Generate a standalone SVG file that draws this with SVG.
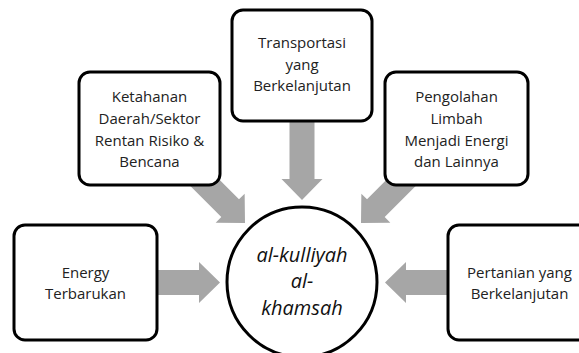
<svg xmlns="http://www.w3.org/2000/svg" width="579" height="353" viewBox="0 0 579 353">
<style>
.box{fill:#fff;stroke:#000;stroke-width:3}
.lbl{font-family:"Open Sans","Liberation Sans",sans-serif;font-size:15px;fill:#222;text-anchor:middle}
.ctr{font-family:"Open Sans","Liberation Sans",sans-serif;font-size:20px;font-style:italic;fill:#111;text-anchor:middle}
.arr{fill:#A6A6A6}
</style>
<defs>
<polygon id="a70" points="-70,-12.5 -21,-12.5 -21,-20.5 0,0 -21,20.5 -21,12.5 -70,12.5"/>
<polygon id="a85" points="-85,-12.5 -21,-12.5 -21,-20.5 0,0 -21,20.5 -21,12.5 -85,12.5"/>
<polygon id="a80" points="-80,-12.5 -21,-12.5 -21,-20.5 0,0 -21,20.5 -21,12.5 -80,12.5"/>
</defs>
<g id="connectors" class="arr">
<use href="#a70" transform="translate(220,282.5)"/>
<use href="#a70" transform="translate(385,282.5) rotate(180)"/>
<use href="#a85" transform="translate(302,200) rotate(90)"/>
<use href="#a80" transform="translate(245,223) rotate(45)"/>
<use href="#a80" transform="translate(361,223) rotate(135)"/>
</g>
<g id="center">
<circle class="box" cx="302" cy="282" r="75"/>
<text class="ctr" x="302" y="262">al-kulliyah</text>
<text class="ctr" x="302" y="288">al-</text>
<text class="ctr" x="302" y="315">khamsah</text>
</g>
<g id="ketahanan">
<rect class="box" x="79" y="72" width="141" height="113" rx="11"/>
<text class="lbl" x="149.5" y="102">Ketahanan</text>
<text class="lbl" x="149.5" y="123.5">Daerah/Sektor</text>
<text class="lbl" x="149.5" y="145.5">Rentan Risiko &amp;</text>
<text class="lbl" x="149.5" y="167">Bencana</text>
</g>
<g id="transportasi">
<rect class="box" x="232" y="10" width="140" height="111" rx="11"/>
<text class="lbl" x="302" y="48">Transportasi</text>
<text class="lbl" x="302" y="69.5">yang</text>
<text class="lbl" x="302" y="91">Berkelanjutan</text>
</g>
<g id="pengolahan">
<rect class="box" x="385" y="72" width="143" height="113" rx="11"/>
<text class="lbl" x="456.5" y="102">Pengolahan</text>
<text class="lbl" x="456.5" y="123.5">Limbah</text>
<text class="lbl" x="456.5" y="145.5">Menjadi Energi</text>
<text class="lbl" x="456.5" y="167">dan Lainnya</text>
</g>
<g id="energy">
<rect class="box" x="14" y="225" width="143" height="115" rx="11"/>
<text class="lbl" x="85.5" y="278">Energy</text>
<text class="lbl" x="85.5" y="299">Terbarukan</text>
</g>
<g id="pertanian">
<rect class="box" x="448" y="225" width="143" height="115" rx="11"/>
<text class="lbl" x="519.5" y="278">Pertanian yang</text>
<text class="lbl" x="519.5" y="299">Berkelanjutan</text>
</g>
</svg>
